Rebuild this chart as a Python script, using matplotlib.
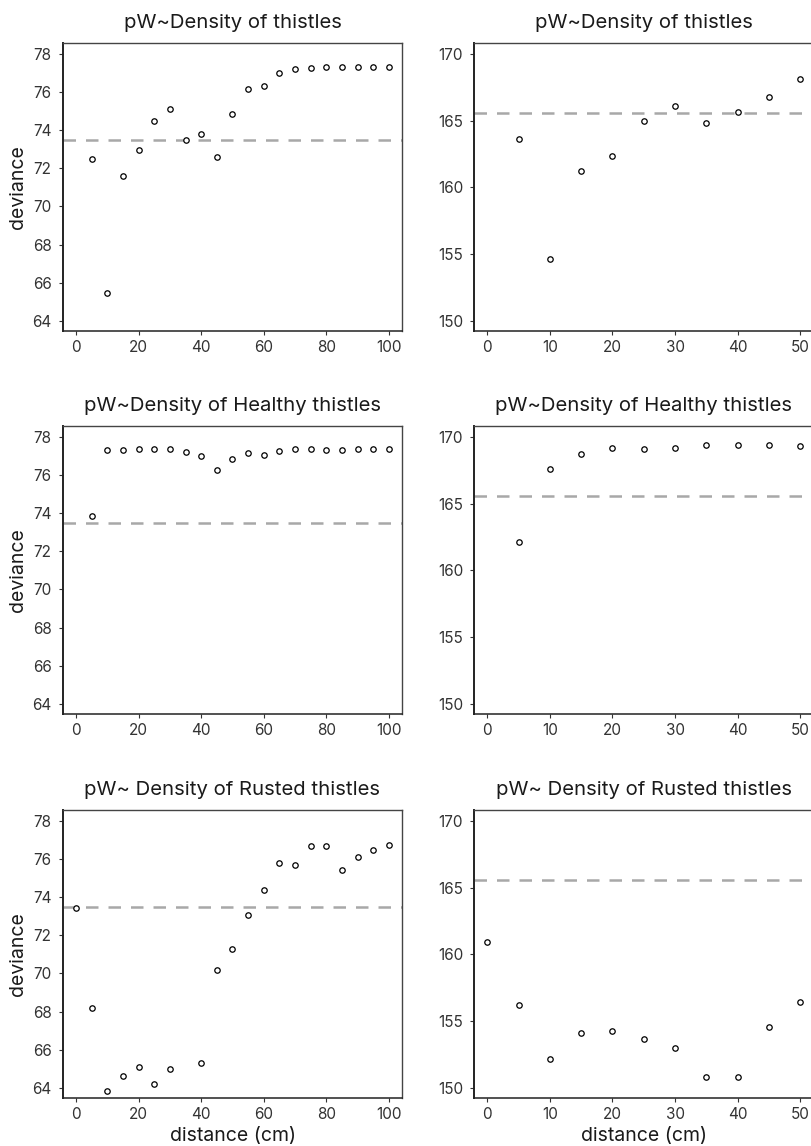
import matplotlib
matplotlib.use('Agg')
from matplotlib import pyplot as plt

plt.rcParams['font.family'] = ['Inter', 'DejaVu Sans']

# distances (cm)
dist_5_100 = list(range(5, 105, 5))
dist_5_50 = list(range(5, 55, 5))
dist_0_50 = list(range(0, 55, 5))
dist_rusted = [0, 5, 10, 15, 20, 25, 30, 40, 45, 50, 55, 60, 65, 70, 75, 80, 85, 90, 95, 100]

# deviance, left column
dev_all_l = [72.5, 65.45, 71.58, 72.94, 74.47, 75.1, 73.49, 73.82, 72.59, 74.83,
             76.14, 76.3, 76.98, 77.21, 77.25, 77.34, 77.32, 77.3, 77.3, 77.34]
dev_healthy_l = [73.83, 77.32, 77.32, 77.35, 77.35, 77.35, 77.21, 76.98, 76.27, 76.86,
                 77.18, 77.04, 77.27, 77.35, 77.35, 77.33, 77.32, 77.35, 77.35, 77.35]
dev_rusted_l = [73.41, 68.17, 63.81, 64.61, 65.09, 64.19, 64.96, 65.31, 70.19, 71.27,
                73.06, 74.36, 75.81, 75.69, 76.69, 76.67, 75.44, 76.09, 76.48, 76.74]

# deviance, right column
dev_all_r = [163.6, 154.6, 161.2, 162.38, 164.95, 166.1, 164.8, 165.65, 166.78, 168.13]
dev_healthy_r = [162.15, 167.6, 168.75, 169.2, 169.13, 169.15, 169.4, 169.43, 169.43, 169.35]
dev_rusted_r = [160.94, 156.2, 152.13, 154.09, 154.27, 153.69, 152.99, 150.83, 150.78, 154.57, 156.42]

null_l = 73.5
null_r = 165.6

titles = ['pW~Density of thistles', 'pW~Density of Healthy thistles', 'pW~ Density of Rusted thistles']

panels = [
    [(dist_5_100, dev_all_l), (dist_5_50, dev_all_r)],
    [(dist_5_100, dev_healthy_l), (dist_5_50, dev_healthy_r)],
    [(dist_rusted, dev_rusted_l), (dist_0_50, dev_rusted_r)],
]

fig = plt.figure(figsize=(8.11, 11.46), dpi=100)

W, H = 811, 1146
lefts = [63, 474.3]
tops = [43, 426, 810]
aw, ah = 339, 288

for r in range(3):
    for c in range(2):
        x, y = panels[r][c]
        ax = fig.add_axes([lefts[c] / W, 1 - (tops[r] + ah) / H, aw / W, ah / H])
        ax.plot(x, y, 'o', ms=3.9, mfc='white', mec='black', mew=0.9, zorder=3)
        if c == 0:
            ax.axhline(null_l, color='#a8a8a8', lw=1.8, dashes=(5.0, 4.0), zorder=2)
            ax.set_xlim(-4.15, 104.15)
            ax.set_ylim(63.46, 78.58)
            ax.set_xticks([0, 20, 40, 60, 80, 100])
            ax.set_yticks([64, 66, 68, 70, 72, 74, 76, 78])
            ax.set_ylabel('deviance', fontsize=14, color='#1a1a1a', va='center')
            ax.yaxis.set_label_coords(-0.133, 0.5)
        else:
            ax.axhline(null_r, color='#a8a8a8', lw=1.8, dashes=(5.0, 4.0), zorder=2)
            ax.set_xlim(-2.07, 52.07)
            ax.set_ylim(149.23, 170.83)
            ax.set_xticks([0, 10, 20, 30, 40, 50])
            ax.set_yticks([150, 155, 160, 165, 170])
        ax.set_title(titles[r], fontsize=14.6, color='#1a1a1a', pad=11)
        if r == 2:
            ax.set_xlabel('distance (cm)', fontsize=14, color='#1a1a1a', labelpad=3.5)
        ax.tick_params(length=2.6, width=0.8, colors='#333333', labelsize=11)
        ax.tick_params(axis='x', pad=4)
        ax.tick_params(axis='y', pad=5.5)
        for s in ['top', 'right']:
            ax.spines[s].set_color('#444444')
            ax.spines[s].set_linewidth(1.0)
        ax.spines['left'].set_color('#222222')
        ax.spines['left'].set_linewidth(1.4)
        ax.spines['bottom'].set_color('#222222')
        ax.spines['bottom'].set_linewidth(1.1)

plt.savefig('out.png', dpi=100)
